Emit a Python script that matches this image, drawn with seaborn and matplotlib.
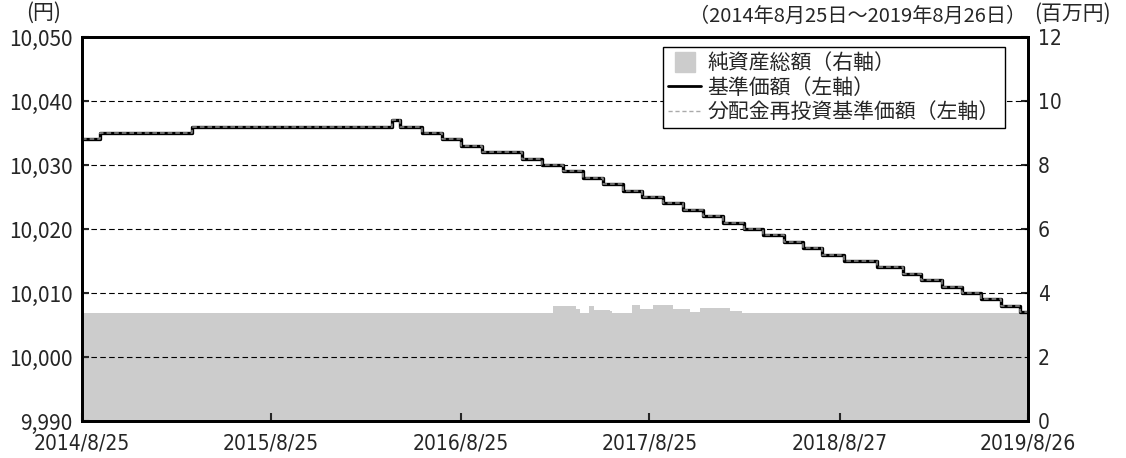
import pandas as pd
import matplotlib
matplotlib.use('Agg')
import matplotlib.pyplot as plt
from matplotlib.lines import Line2D
import seaborn as sns

# 基準価額（段階的な変化点の日付と値）
nav_dates = ['2014-08-25', '2014-09-29', '2015-03-25', '2016-04-15', '2016-04-30',
             '2016-06-12', '2016-07-20', '2016-08-26', '2016-10-05', '2016-12-21',
             '2017-01-29', '2017-03-11', '2017-04-19', '2017-05-27', '2017-07-05',
             '2017-08-10', '2017-09-20', '2017-10-29', '2017-12-06', '2018-01-14',
             '2018-02-23', '2018-04-01', '2018-05-11', '2018-06-18', '2018-07-25',
             '2018-09-04', '2018-11-08', '2018-12-27', '2019-02-01', '2019-03-12',
             '2019-04-21', '2019-05-28', '2019-07-04', '2019-08-11', '2019-08-26']
nav_values = [10034, 10035, 10036, 10037, 10036,
              10035, 10034, 10033, 10032, 10031,
              10030, 10029, 10028, 10027, 10026,
              10025, 10024, 10023, 10022, 10021,
              10020, 10019, 10018, 10017, 10016,
              10015, 10014, 10013, 10012, 10011,
              10010, 10009, 10008, 10007, 10007]
# 分配金再投資基準価額（分配なしのため基準価額と同じ）
reinvest_values = list(nav_values)

# 純資産総額（百万円）
asset_dates = ['2014-08-25', '2017-02-20', '2017-04-05', '2017-04-13', '2017-04-30',
               '2017-05-10', '2017-06-10', '2017-06-14', '2017-07-22', '2017-08-07',
               '2017-09-01', '2017-10-09', '2017-11-11', '2017-12-01', '2018-01-27',
               '2018-02-20', '2019-08-26']
asset_values = [3.37, 3.60, 3.50, 3.37, 3.60,
                3.48, 3.44, 3.37, 3.63, 3.50,
                3.63, 3.50, 3.40, 3.52, 3.43,
                3.37, 3.37]

tick_dates = ['2014-08-25', '2015-08-25', '2016-08-25', '2017-08-25', '2018-08-27', '2019-08-26']
tick_labels = ['2014/8/25', '2015/8/25', '2016/8/25', '2017/8/25', '2018/8/27', '2019/8/26']

sns.set_style('ticks')
plt.rcParams['font.family'] = ['Noto Sans CJK JP', 'DejaVu Sans']

nav = pd.DataFrame({'日付': pd.to_datetime(nav_dates),
                    '基準価額': nav_values,
                    '分配金再投資基準価額': reinvest_values})
asset = pd.DataFrame({'日付': pd.to_datetime(asset_dates), '純資産総額': asset_values})

fig = plt.figure(figsize=(11.26, 4.58), dpi=100)
ax = fig.add_axes([82 / 1126, 37 / 458, 946 / 1126, 384 / 458])
ax2 = ax.twinx()
ax.set_zorder(ax2.get_zorder() + 1)
ax.patch.set_visible(False)

# 純資産総額（右軸）
ax2.fill_between(asset['日付'], asset['純資産総額'], step='post', color='#cccccc', lw=0)

# 基準価額・分配金再投資基準価額（左軸）
sns.lineplot(data=nav, x='日付', y='基準価額', ax=ax, drawstyle='steps-post',
             color='black', lw=2.4)
sns.lineplot(data=nav, x='日付', y='分配金再投資基準価額', ax=ax, drawstyle='steps-post',
             color='#8a8a8a', lw=1.1, linestyle=(0, (3, 2)))

ax.set_xlim(pd.Timestamp('2014-08-25'), pd.Timestamp('2019-08-26'))
ax.set_xticks(pd.to_datetime(tick_dates))
ax.set_xticklabels(tick_labels)
ax.set_xlabel('')
ax.set_ylabel('')

left_ticks = list(range(9990, 10051, 10))
ax.set_ylim(9990, 10050)
ax.set_yticks(left_ticks)
ax.set_yticklabels([f'{v:,}' for v in left_ticks])
ax.yaxis.grid(True, linestyle=(0, (5, 3)), color='black', lw=0.8)

right_ticks = list(range(0, 13, 2))
ax2.set_ylim(0, 12)
ax2.set_yticks(right_ticks)
ax2.set_yticklabels([str(v) for v in right_ticks])

ax.tick_params(axis='y', direction='in', length=5, width=1.5, labelsize=15, pad=7)
ax.tick_params(axis='x', direction='in', length=6, width=1.5, labelsize=15, pad=9)
ax2.tick_params(axis='y', direction='in', length=5, width=1.5, labelsize=15, pad=7)
for lab in ax.get_xticklabels() + ax2.get_yticklabels():
    lab.set_family('DejaVu Sans')
    lab.set_stretch('condensed')

for a in (ax, ax2):
    for s in a.spines.values():
        s.set_linewidth(2)
        s.set_color('black')

handles = [
    Line2D([], [], marker='s', color='#cccccc', markersize=15, linestyle='none'),
    Line2D([], [], color='black', lw=2),
    Line2D([], [], color='#aaaaaa', lw=1, linestyle=(0, (3, 2))),
]
labels = ['純資産総額（右軸）', '基準価額（左軸）', '分配金再投資基準価額（左軸）']
leg = ax.legend(handles, labels, loc='upper right',
                bbox_to_anchor=((1005 - 82) / 946, (421 - 47) / 384),
                frameon=True, fancybox=False, edgecolor='black', framealpha=1,
                fontsize=15, handlelength=1.6, handletextpad=0.3,
                labelspacing=0.12, borderpad=0.25, borderaxespad=0)
leg.get_frame().set_linewidth(1)

fig.text(44 / 1126, 1 - 13 / 458, '(円)', ha='center', va='center', fontsize=15)
fig.text(1026 / 1126, 1 - 16 / 458, '（2014年8月25日～2019年8月26日）',
         ha='right', va='center', fontsize=14.5)
fig.text(1072 / 1126, 1 - 14 / 458, '(百万円)', ha='center', va='center', fontsize=15)

fig.savefig('out.png', dpi=100)
